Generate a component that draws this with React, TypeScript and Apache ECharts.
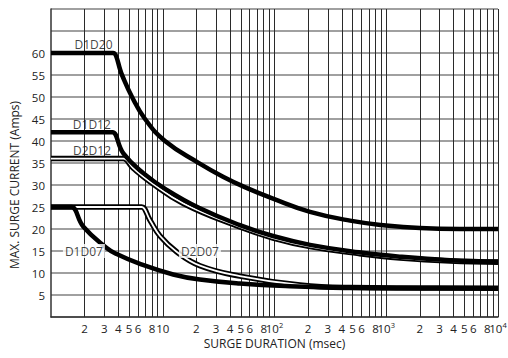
import React, { useEffect, useRef } from 'react';
import * as echarts from 'echarts';

// Surge duration (msec) / max surge current (Amps) for each device
const d1d20X = [1, 3.5, 3.59, 4.32, 5.31, 6.94, 10.47, 20.7, 34.6, 55.5, 97, 208, 474, 995, 2004, 4560, 10000];
const d1d20Y = [60, 60, 60, 55, 50, 45, 40, 35.1, 31.9, 29.4, 26.9, 23.9, 21.9, 20.8, 20.2, 20, 20];

const d1d12X = [1, 3.45, 3.55, 4.44, 6.7, 10.85, 21.5, 49, 97, 208, 570, 1330, 3720, 10000];
const d1d12Y = [42, 42, 42, 37.2, 32.7, 28.9, 24.7, 20.9, 18.4, 16.4, 14.7, 13.7, 12.9, 12.6];

const d2d12X = [1, 4.3, 4.44, 5.45, 7.69, 15.3, 49, 97, 208, 570, 1330, 3720, 10000];
const d2d12Y = [36, 36, 36, 33.8, 30.75, 25.8, 20.45, 17.95, 16.0, 14.4, 13.4, 12.7, 12.45];

const d1d07X = [1, 1.49, 1.53, 1.95, 3.15, 3.87, 6.26, 12.4, 21.5, 49, 138, 474, 2004, 10000];
const d1d07Y = [25, 25, 25, 20.5, 15.7, 14.3, 12.05, 9.66, 8.5, 7.6, 7.0, 6.65, 6.55, 6.52];

const d2d07X = [1, 6.3, 6.48, 7.69, 9.45, 13.3, 21.5, 49, 169, 474, 2004, 10000];
const d2d07Y = [25, 25, 25, 22, 18.4, 14.84, 11.66, 9.3, 7.27, 6.7, 6.6, 6.55];

// Curve name labels (anchored in data coordinates)
const curveNames = ['D1D20', 'D1D12', 'D2D12', 'D1D07', 'D2D07'];
const curveNameX = [2.4, 2.32, 2.33, 1.97, 21.5];
const curveNameY = [61.9, 43.75, 37.95, 15, 15];
const curveNameBoxed = [false, false, false, true, true];

// Axis ticks
const decades = [1, 10, 100, 1000];
const minorSteps = [2, 3, 4, 5, 6, 7, 8, 9];
const labelledSteps = [2, 3, 4, 5, 6, 8];
const majorValues = [10, 100, 1000, 10000];
const majorLabels = ['10', '10{s|2}', '10{s|3}', '10{s|4}'];
const yLabelMin = 5;
const yLabelMax = 60;

const zip = (xs: number[], ys: number[]) => xs.map((x, i) => [x, ys[i]]);

const FONT = 'Open Sans';
const SMOOTH = 0.45;

function buildOption() {
  const gridLines: any[] = [];
  decades.forEach((d) =>
    minorSteps.forEach((m) => {
      gridLines.push({
        xAxis: d * m,
        label: { show: labelledSteps.includes(m), formatter: String(m) },
      });
    })
  );
  majorValues.forEach((v, i) => {
    gridLines.push({ xAxis: v, label: { show: true, formatter: majorLabels[i] } });
  });

  const solid = (name: string, xs: number[], ys: number[], z: number) => ({
    type: 'line',
    name,
    data: zip(xs, ys),
    symbol: 'none',
    smooth: SMOOTH,
    silent: true,
    z,
    lineStyle: { color: '#000', width: 4.5, cap: 'butt', join: 'miter' },
  });
  const double = (name: string, xs: number[], ys: number[], z: number) => [
    {
      type: 'line',
      name: name + '-outer',
      data: zip(xs, ys),
      symbol: 'none',
      smooth: SMOOTH,
      silent: true,
      z,
      lineStyle: { color: '#000', width: 5.5, cap: 'butt', join: 'miter' },
    },
    {
      type: 'line',
      name: name + '-inner',
      data: zip(xs, ys),
      symbol: 'none',
      smooth: SMOOTH,
      silent: true,
      z: z + 0.5,
      lineStyle: { color: '#fff', width: 1.8, cap: 'butt', join: 'miter' },
    },
  ];

  return {
    animation: false,
    backgroundColor: '#fff',
    textStyle: { fontFamily: FONT },
    grid: { left: 51, right: 10, top: 9, bottom: 41, containLabel: false },
    xAxis: {
      type: 'log',
      logBase: 10,
      min: 1,
      max: 10000,
      name: 'SURGE DURATION (msec)',
      nameLocation: 'middle',
      nameGap: 20,
      nameTextStyle: { fontFamily: FONT, fontSize: 12, color: '#222' },
      axisLine: { show: true, lineStyle: { color: '#333', width: 1.5 } },
      axisTick: { show: false },
      axisLabel: { show: false },
      splitLine: { show: false },
    },
    yAxis: {
      type: 'value',
      min: 0,
      max: 70,
      interval: 5,
      name: 'MAX. SURGE CURRENT (Amps)',
      nameLocation: 'middle',
      nameGap: 27,
      nameTextStyle: { fontFamily: FONT, fontSize: 12, color: '#222', padding: [0, 44, 0, 0] },
      axisLine: { show: true, lineStyle: { color: '#333', width: 1.5 } },
      axisTick: { show: false },
      axisLabel: {
        fontFamily: FONT,
        fontSize: 11.5,
        color: '#222',
        margin: 6,
        formatter: (v: number) => (v >= yLabelMin && v <= yLabelMax ? String(v) : ''),
      },
      splitLine: { show: true, lineStyle: { color: '#808080', width: 1.5 } },
    },
    series: [
      {
        type: 'line',
        name: 'grid',
        data: [
          [1, 0],
          [10000, 0],
        ],
        symbol: 'none',
        silent: true,
        z: 1,
        lineStyle: { opacity: 0 },
        markLine: {
          silent: true,
          z: 1,
          symbol: ['none', 'none'],
          animation: false,
          lineStyle: { color: '#2a2a2a', width: 1, type: 'solid' },
          label: {
            position: 'start',
            distance: 4,
            color: '#222',
            fontFamily: FONT,
            fontSize: 11.5,
            lineHeight: 14,
            rich: { s: { fontFamily: FONT, fontSize: 7.5, lineHeight: 8, verticalAlign: 'top', color: '#222' } },
          },
          emphasis: { disabled: true },
          data: gridLines,
        },
      },
      ...double('D2D07', d2d07X, d2d07Y, 3),
      solid('D1D07', d1d07X, d1d07Y, 5),
      ...double('D2D12', d2d12X, d2d12Y, 6),
      solid('D1D12', d1d12X, d1d12Y, 8),
      solid('D1D20', d1d20X, d1d20Y, 9),
      {
        type: 'scatter',
        name: 'labels',
        silent: true,
        z: 12,
        symbolSize: 0,
        data: curveNames.map((n, i) => ({
          value: [curveNameX[i], curveNameY[i]],
          name: n,
          label: curveNameBoxed[i]
            ? { backgroundColor: '#fff', padding: [1, 2, 1, 2] }
            : {},
        })),
        label: {
          show: true,
          position: 'inside',
          formatter: (p: any) => p.name,
          color: '#111',
          fontFamily: FONT,
          fontSize: 12,
        },
      },
    ],
  };
}

export default function App() {
  const ref = useRef<HTMLDivElement>(null);
  useEffect(() => {
    if (!ref.current) return;
    const chart = echarts.init(ref.current, null, { renderer: 'svg' });
    chart.setOption(buildOption() as any);
    return () => chart.dispose();
  }, []);
  return (
    <div
      ref={ref}
      style={{ position: 'fixed', left: 0, top: 0, width: 508, height: 358, background: '#fff' }}
    />
  );
}
